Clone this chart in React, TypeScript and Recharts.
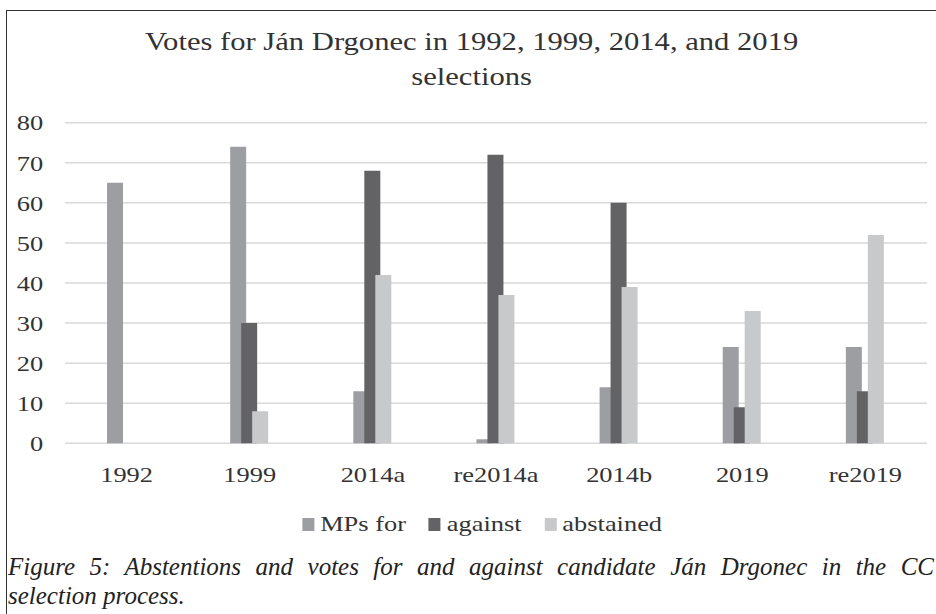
import { BarChart, Bar, XAxis, YAxis, CartesianGrid, Legend } from 'recharts';

const categories = ['1992', '1999', '2014a', 're2014a', '2014b', '2019', 're2019'];
const mpsFor = [65, 74, 13, 1, 14, 24, 24];
const against = [0, 30, 68, 72, 60, 9, 13];
const abstained = [0, 8, 42, 37, 39, 33, 52];
const yTicks = [0, 10, 20, 30, 40, 50, 60, 70, 80];

const series = [
    { key: 'mpsFor', name: 'MPs for', color: '#9d9ea2' },
    { key: 'against', name: 'against', color: '#636366' },
    { key: 'abstained', name: 'abstained', color: '#c8c9cb' },
];

const data = categories.map((name, i) => ({
    name,
    mpsFor: mpsFor[i],
    against: against[i],
    abstained: abstained[i],
}));

// the chart in the source is an Excel image pasted in stretched ~1.2x wide,
// so it is laid out narrow and scaled horizontally as a whole
const STRETCH = 1.2;
const W = 936 / STRETCH;
const serif = '"Liberation Serif", "Times New Roman", serif';
const ink = '#333';

const LegendRow = () => (
    <div
        style={{
            height: 30,
            display: 'flex',
            alignItems: 'center',
            justifyContent: 'center',
            paddingLeft: 31,
            fontFamily: serif,
            fontSize: 22,
            color: ink,
        }}
    >
        {series.map((s, i) => (
            <div key={s.key} style={{ display: 'flex', alignItems: 'center', marginLeft: i ? 19 : 0 }}>
                <span style={{ width: 10, height: 13, background: s.color, marginRight: 5 }} />
                <span>{s.name}</span>
            </div>
        ))}
    </div>
);

export default function App() {
    return (
        <div style={{ position: 'absolute', left: 0, top: 0, width: 936, height: 614, overflow: 'hidden', background: '#fff' }}>
            {/* frame round the chart (right and bottom edges are cut off in the source) */}
            <div
                style={{
                    position: 'absolute',
                    left: 6,
                    top: 9.5,
                    width: 960,
                    height: 640,
                    borderTop: '1.5px solid #333',
                    borderLeft: '1.5px solid #333',
                }}
            />

            <div
                style={{
                    position: 'absolute',
                    left: 0,
                    top: 0,
                    width: W,
                    height: 545,
                    transform: `scaleX(${STRETCH})`,
                    transformOrigin: '0 0',
                }}
            >
                <div
                    style={{
                        position: 'absolute',
                        left: 3,
                        top: 24,
                        width: W,
                        textAlign: 'center',
                        fontFamily: serif,
                        fontSize: 25.5,
                        lineHeight: '35px',
                        color: ink,
                    }}
                >
                    Votes for Ján Drgonec in 1992, 1999, 2014, and 2019
                    <br />
                    selections
                </div>

                <BarChart
                    width={W}
                    height={545}
                    data={data}
                    margin={{ top: 122.7, right: 7.5, bottom: 6, left: 0 }}
                    barSize={13.33}
                    barGap={-4.17}
                >
                    <CartesianGrid vertical={false} stroke="#d9d9d9" strokeWidth={1.5} />
                    <XAxis
                        dataKey="name"
                        axisLine={false}
                        tickLine={false}
                        tickSize={0}
                        tickMargin={23}
                        height={65.7}
                        interval={0}
                        tick={{ fontSize: 22, fill: ink, fontFamily: serif }}
                    />
                    <YAxis
                        domain={[0, 80]}
                        ticks={yTicks}
                        axisLine={false}
                        tickLine={false}
                        tickSize={0}
                        tickMargin={18.3}
                        width={54.2}
                        tick={{ fontSize: 22, fill: ink, fontFamily: serif }}
                    />
                    <Legend verticalAlign="bottom" content={<LegendRow />} />
                    {series.map((s) => (
                        <Bar key={s.key} dataKey={s.key} name={s.name} fill={s.color} isAnimationActive={false} />
                    ))}
                </BarChart>
            </div>

            <div
                style={{
                    position: 'absolute',
                    left: 8,
                    top: 552,
                    width: 926,
                    fontFamily: serif,
                    fontStyle: 'italic',
                    fontSize: 25,
                    lineHeight: '29px',
                    color: '#222',
                }}
            >
                <div style={{ whiteSpace: 'nowrap', textAlign: 'justify', textAlignLast: 'justify' }}>
                    Figure 5: Abstentions and votes for and against candidate Ján Drgonec in the CC
                </div>
                <div>selection process.</div>
            </div>
        </div>
    );
}
